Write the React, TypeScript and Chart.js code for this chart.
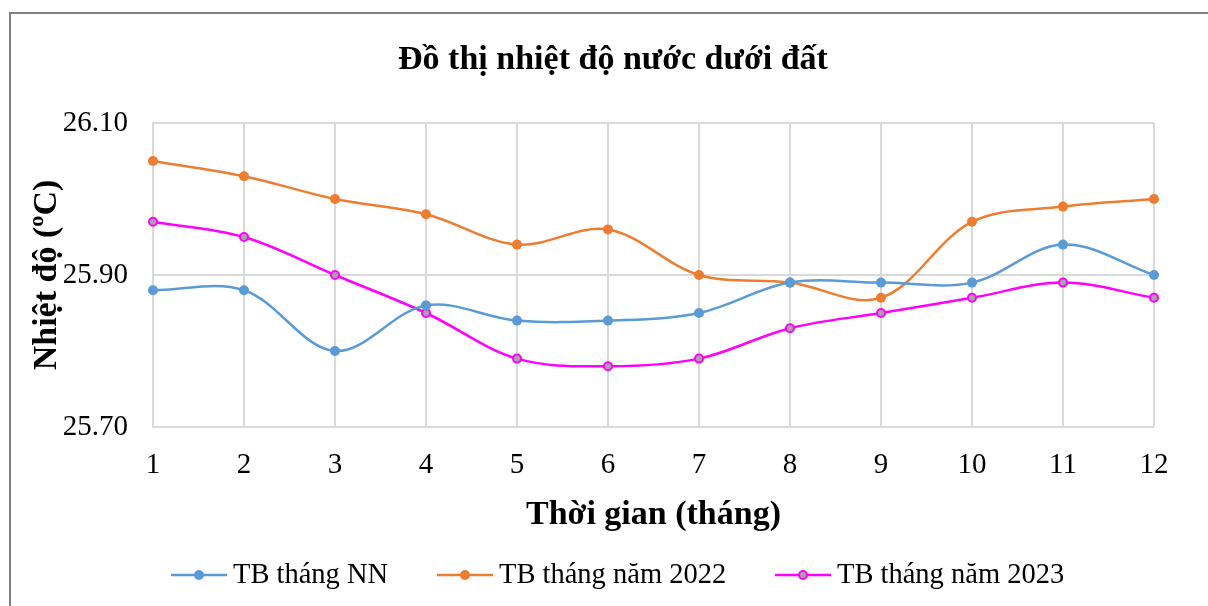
import React, { useEffect, useRef } from "react";
import { Chart, registerables } from "chart.js";

Chart.register(...registerables);

const months = ["1", "2", "3", "4", "5", "6", "7", "8", "9", "10", "11", "12"];
const tbNN = [25.88, 25.88, 25.8, 25.86, 25.84, 25.84, 25.85, 25.89, 25.89, 25.89, 25.94, 25.9];
const tb2022 = [26.05, 26.03, 26.0, 25.98, 25.94, 25.96, 25.9, 25.89, 25.87, 25.97, 25.99, 26.0];
const tb2023 = [25.97, 25.95, 25.9, 25.85, 25.79, 25.78, 25.79, 25.83, 25.85, 25.87, 25.89, 25.87];
const seriesLabels = ["TB tháng NN", "TB tháng năm 2022", "TB tháng năm 2023"];
const yMin = 25.7;
const yMax = 26.1;
const yStep = 0.2;

const FONT = "'Liberation Serif', 'Times New Roman', serif";

const frameAndLegend = {
  id: "frameAndLegend",
  afterLayout(chart: any) {
    const t = chart.titleBlock;
    if (t) {
      t.left = 72;
      t.right = chart.chartArea.right;
      t.width = t.right - t.left;
    }
  },
  beforeDraw(chart: any) {
    const ctx = chart.ctx;
    ctx.save();
    ctx.fillStyle = "#ffffff";
    ctx.fillRect(0, 0, chart.width, chart.height);
    ctx.strokeStyle = "#808080";
    ctx.lineWidth = 2;
    ctx.strokeRect(10, 13, chart.width + 40, chart.height + 40);
    ctx.restore();
  },
  afterDraw(chart: any) {
    const ctx = chart.ctx;
    const y = 575;
    const starts = [171, 437, 775];
    const len = 56;
    ctx.save();
    chart.data.datasets.forEach((ds: any, i: number) => {
      const x0 = starts[i];
      ctx.strokeStyle = ds.borderColor;
      ctx.lineWidth = 2.5;
      ctx.beginPath();
      ctx.moveTo(x0, y);
      ctx.lineTo(x0 + len, y);
      ctx.stroke();
      ctx.beginPath();
      ctx.arc(x0 + len / 2, y, i === 2 ? 4 : 5, 0, Math.PI * 2);
      ctx.fillStyle = ds.pointBackgroundColor;
      ctx.fill();
      if (i === 2) {
        ctx.lineWidth = 2;
        ctx.strokeStyle = ds.pointBorderColor;
        ctx.stroke();
      }
      ctx.fillStyle = "#000000";
      ctx.font = `28.5px ${FONT}`;
      ctx.textBaseline = "middle";
      ctx.textAlign = "left";
      ctx.fillText(ds.label, x0 + len + 6, y + 1);
    });
    ctx.restore();
  },
};

export default function App() {
  const ref = useRef<HTMLCanvasElement | null>(null);

  useEffect(() => {
    if (!ref.current) return;
    const chart = new Chart(ref.current, {
      type: "line",
      data: {
        labels: months,
        datasets: [
          {
            label: seriesLabels[0],
            data: tbNN,
            borderColor: "#5b9bd5",
            backgroundColor: "#5b9bd5",
            pointBackgroundColor: "#5b9bd5",
            pointBorderColor: "#5b9bd5",
            pointRadius: 5,
            pointBorderWidth: 0,
            borderWidth: 2.5,
            tension: 0.35,
          },
          {
            label: seriesLabels[1],
            data: tb2022,
            borderColor: "#ed7d31",
            backgroundColor: "#ed7d31",
            pointBackgroundColor: "#ed7d31",
            pointBorderColor: "#ed7d31",
            pointRadius: 5,
            pointBorderWidth: 0,
            borderWidth: 2.5,
            tension: 0.35,
          },
          {
            label: seriesLabels[2],
            data: tb2023,
            borderColor: "#ff00ff",
            backgroundColor: "#ff00ff",
            pointBackgroundColor: "#a5a5a5",
            pointBorderColor: "#ff00ff",
            pointRadius: 4,
            pointBorderWidth: 2,
            borderWidth: 2.5,
            tension: 0.35,
          },
        ],
      },
      options: {
        responsive: false,
        animation: false,
        events: [],
        layout: { padding: { left: 0, right: 54, top: 0, bottom: 0 } },
        plugins: {
          legend: { display: false },
          tooltip: { enabled: false },
          title: {
            display: true,
            text: "Đồ thị nhiệt độ nước dưới đất",
            color: "#000000",
            font: { family: FONT, size: 34, weight: "bold" },
            padding: { top: 40, bottom: 42.2 },
          },
        },
        scales: {
          x: {
            type: "category",
            offset: false,
            grid: { color: "#d9d9d9", lineWidth: 2, drawTicks: false },
            border: { display: false },
            ticks: {
              color: "#000000",
              font: { family: FONT, size: 29 },
              padding: 21,
              maxRotation: 0,
              autoSkip: false,
            },
            title: {
              display: true,
              text: "Thời gian (tháng)",
              color: "#000000",
              font: { family: FONT, size: 34, weight: "bold" },
              padding: { top: 0, bottom: 70 },
            },
            afterFit(scale: any) {
              scale.height = 606 - 427;
            },
          },
          y: {
            min: yMin,
            max: yMax,
            grid: { color: "#d9d9d9", lineWidth: 2, drawTicks: false },
            border: { display: true, color: "#d9d9d9", width: 2 },
            ticks: {
              stepSize: yStep,
              color: "#000000",
              font: { family: FONT, size: 29 },
              padding: 25,
              callback: (v: any) => Number(v).toFixed(2),
            },
            title: {
              display: true,
              text: "Nhiệt độ (ºC)",
              color: "#000000",
              font: { family: FONT, size: 34, weight: "bold" },
              padding: { top: 26.6, bottom: 0 },
            },
            afterFit(scale: any) {
              scale.width = 153;
            },
          },
        },
      },
      plugins: [frameAndLegend],
    });
    return () => chart.destroy();
  }, []);

  return (
    <div style={{ position: "absolute", left: 0, top: 0, width: 1208, height: 606 }}>
      <canvas ref={ref} width={1208} height={606} style={{ width: 1208, height: 606 }} />
    </div>
  );
}
